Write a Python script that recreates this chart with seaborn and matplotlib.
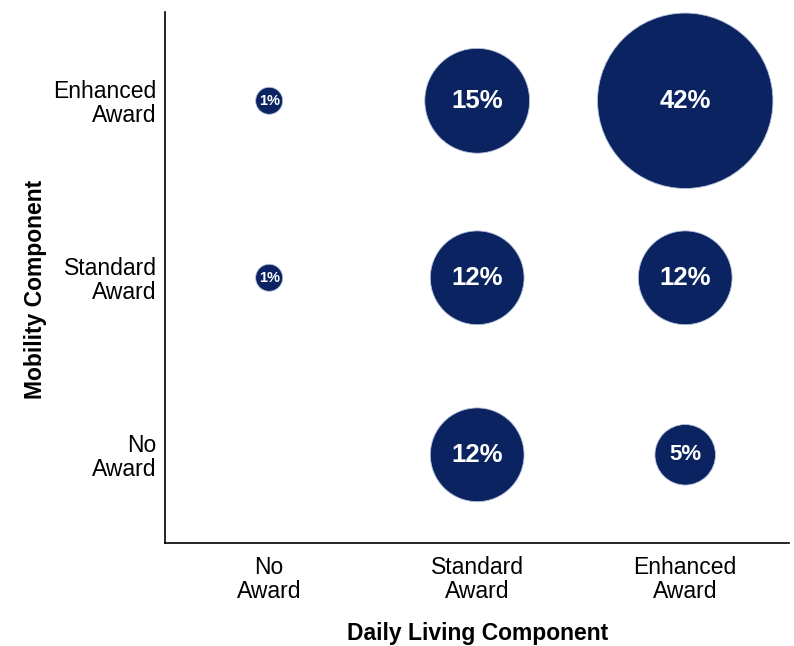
import matplotlib

matplotlib.use("Agg")
import matplotlib.pyplot as plt
import numpy as np
import pandas as pd
import seaborn as sns

# categories (x = daily living, y = mobility)
daily_living = ["No\nAward", "Standard\nAward", "Enhanced\nAward"]
mobility = ["No\nAward", "Standard\nAward", "Enhanced\nAward"]

# one entry per bubble
bubble_x = ["No\nAward", "Standard\nAward", "Enhanced\nAward",
            "No\nAward", "Standard\nAward", "Enhanced\nAward",
            "Standard\nAward", "Enhanced\nAward"]
bubble_y = ["Enhanced\nAward", "Enhanced\nAward", "Enhanced\nAward",
            "Standard\nAward", "Standard\nAward", "Standard\nAward",
            "No\nAward", "No\nAward"]
share = [1, 15, 42, 1, 12, 12, 12, 5]

navy = "#0b2461"

df = pd.DataFrame(
    {
        "x": [daily_living.index(v) for v in bubble_x],
        "y": [mobility.index(v) for v in bubble_y],
        "share": share,
    }
)

sns.set_style("white")
plt.rcParams["font.family"] = ["Liberation Sans", "DejaVu Sans"]

fig = plt.figure(figsize=(7.94, 6.46), dpi=100)
ax = fig.add_axes([0.208, 0.159, 0.786, 0.822])

sns.scatterplot(
    data=df,
    x="x",
    y="y",
    size="share",
    sizes=(df["share"].min() * 380, df["share"].max() * 380),
    size_norm=(df["share"].min(), df["share"].max()),
    color=navy,
    edgecolor="#b8c4dc",
    linewidth=0.6,
    alpha=1,
    legend=False,
    ax=ax,
)

for _, row in df.iterrows():
    fs = min(18.5, 6 + 4.5 * np.sqrt(row["share"]))
    ax.text(
        row["x"],
        row["y"],
        f"{int(row['share'])}%",
        ha="center",
        va="center",
        color="white",
        fontsize=fs,
        fontweight="bold",
    )

ax.set_xlim(-0.5, 2.5)
ax.set_ylim(-0.5, 2.5)
ax.set_xticks(range(len(daily_living)))
ax.set_xticklabels(daily_living, fontsize=16.5, color="black", linespacing=1.05)
ax.set_yticks(range(len(mobility)))
ax.set_yticklabels(mobility, fontsize=16.5, color="black", ha="right", linespacing=1.05)
ax.tick_params(axis="x", length=0, pad=9)
ax.tick_params(axis="y", length=0, pad=6)

ax.set_xlabel("Daily Living Component", fontsize=16.5, fontweight="bold",
              labelpad=14, color="black")
ax.set_ylabel("Mobility Component", fontsize=16.5, fontweight="bold",
              color="black")
ax.yaxis.set_label_coords(-0.189, 0.478)

sns.despine(ax=ax)
for side in ["left", "bottom"]:
    ax.spines[side].set_color("black")
    ax.spines[side].set_linewidth(1.2)

fig.savefig("out.png", dpi=100)
plt.close(fig)
